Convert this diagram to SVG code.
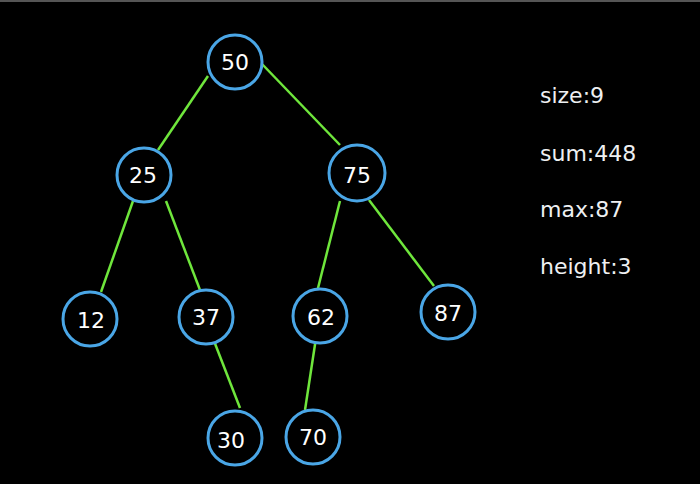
<svg xmlns="http://www.w3.org/2000/svg" width="700" height="484" viewBox="0 0 700 484">
<style>
.node circle{fill:#000;stroke:#4aa6e6;stroke-width:3}
.node text{fill:#fff;font-family:"DejaVu Sans",sans-serif;font-size:22px;text-anchor:middle}
.edges line{stroke:#6fe63c;stroke-width:2.5}
.info{fill:#eef0f2;font-family:"DejaVu Sans",sans-serif;font-size:22px}
</style>
<rect width="700" height="484" fill="#000"/>
<rect width="700" height="2" fill="#555"/>
<g class="edges">
<line x1="208" y1="76" x2="158" y2="150"/>
<line x1="262" y1="64" x2="340" y2="145"/>
<line x1="133" y1="201" x2="101" y2="292"/>
<line x1="166" y1="201" x2="200" y2="290"/>
<line x1="340" y1="201" x2="317" y2="292"/>
<line x1="369" y1="200" x2="434" y2="286"/>
<line x1="214" y1="341" x2="240" y2="408"/>
<line x1="316" y1="338" x2="305" y2="410"/>
</g>
<g id="n50" class="node"><circle cx="235" cy="62" r="27"/><text x="235" y="70">50</text></g>
<g id="n25" class="node"><circle cx="144" cy="175" r="27"/><text x="143" y="183">25</text></g>
<g id="n75" class="node"><circle cx="357" cy="173" r="28"/><text x="357" y="183">75</text></g>
<g id="n12" class="node"><circle cx="90" cy="319" r="27"/><text x="91" y="328">12</text></g>
<g id="n37" class="node"><circle cx="206" cy="317" r="27"/><text x="206" y="325">37</text></g>
<g id="n62" class="node"><circle cx="320" cy="316" r="27"/><text x="321" y="325">62</text></g>
<g id="n87" class="node"><circle cx="448" cy="312" r="27"/><text x="448" y="321">87</text></g>
<g id="n30" class="node"><circle cx="235" cy="438" r="27"/><text x="231" y="448">30</text></g>
<g id="n70" class="node"><circle cx="313" cy="437" r="27"/><text x="313" y="445">70</text></g>
<text class="info" x="540" y="103">size:9</text>
<text class="info" x="540" y="161">sum:448</text>
<text class="info" x="540" y="217">max:87</text>
<text class="info" x="540" y="274">height:3</text>
</svg>
